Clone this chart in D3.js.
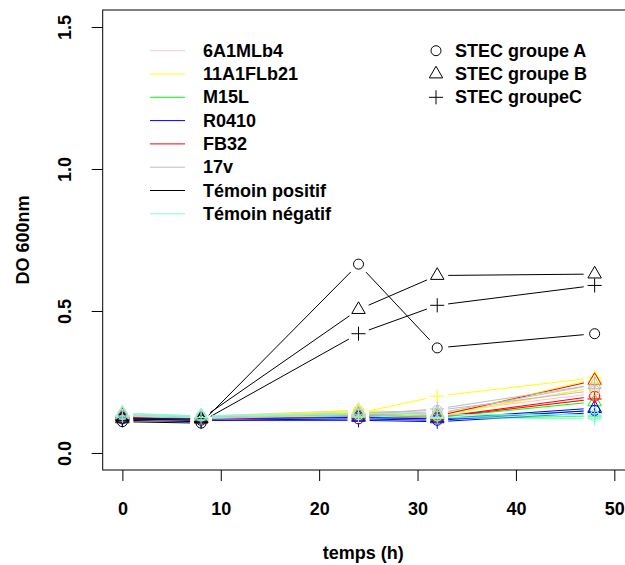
<!DOCTYPE html>
<html><head><meta charset="utf-8">
<script src="https://cdn.jsdelivr.net/npm/d3@7"></script>
<style>
html,body{margin:0;padding:0;background:#fff;}
svg{display:block;font-family:"Liberation Sans",Arial,Helvetica,sans-serif;font-weight:bold;}
</style></head>
<body>
<svg id="c" width="625" height="565"></svg>
<script>
// ---- data ----
const times = [0, 8, 24, 32, 48];
const strains = ["6A1MLb4", "11A1FLb21", "M15L", "R0410", "FB32", "17v", "Témoin positif", "Témoin négatif"];
const strainColors = ["#FFC0CB", "#FFFF00", "#00FF00", "#0000FF", "#FF0000", "#BEBEBE", "#000000", "#7FFFD4"];
const groups = ["STEC groupe A", "STEC groupe B", "STEC groupeC"];
const groupSymbols = ["circle", "triangle", "plus"];
// each strain: [groupe A, groupe B, groupe C] values at times
const v6A1MLb4 = [[0.135, 0.13, 0.145, 0.135, 0.23], [0.14, 0.13, 0.15, 0.14, 0.21], [0.13, 0.125, 0.14, 0.13, 0.19]];
const v11A1FLb21 = [[0.13, 0.125, 0.15, 0.13, 0.23], [0.125, 0.12, 0.145, 0.13, 0.26], [0.125, 0.12, 0.14, 0.20, 0.265]];
const vM15L = [[0.125, 0.12, 0.13, 0.12, 0.15], [0.13, 0.12, 0.13, 0.125, 0.18], [0.12, 0.12, 0.125, 0.12, 0.13]];
const vR0410 = [[0.12, 0.115, 0.12, 0.115, 0.15], [0.125, 0.12, 0.125, 0.12, 0.158], [0.12, 0.115, 0.115, 0.11, 0.142]];
const vFB32 = [[0.125, 0.12, 0.13, 0.125, 0.20], [0.13, 0.12, 0.135, 0.13, 0.255], [0.125, 0.12, 0.13, 0.125, 0.19]];
const v17v = [[0.13, 0.125, 0.14, 0.15, 0.22], [0.135, 0.125, 0.14, 0.14, 0.24], [0.13, 0.12, 0.135, 0.155, 0.24]];
const vTemoinPos = [[0.11, 0.105, 0.665, 0.37, 0.42], [0.12, 0.12, 0.505, 0.625, 0.63], [0.115, 0.11, 0.42, 0.52, 0.59]];
const vTemoinNeg = [[0.135, 0.13, 0.135, 0.13, 0.13], [0.14, 0.13, 0.14, 0.135, 0.135], [0.13, 0.125, 0.13, 0.125, 0.12]];
const strainValues = [v6A1MLb4, v11A1FLb21, vM15L, vR0410, vFB32, v17v, vTemoinPos, vTemoinNeg];
const xTicks = [0, 10, 20, 30, 40, 50];
const yTicks = [0.0, 0.5, 1.0, 1.5];
const yTickLabels = ["0.0", "0.5", "1.0", "1.5"];

// ---- layout ----
const svg = d3.select("#c");
const x = d3.scaleLinear().domain([-2, 52]).range([102.7, 634]);
const y = d3.scaleLinear().domain([-0.06, 1.56]).range([470, 10]);
const R = 5.0;       // symbol radius
const GAP = 11;      // type="b" gap
const FS = 18;

function symbolPath(kind) {
  if (kind === "circle") {
    return `M${-R},0a${R},${R} 0 1,0 ${2*R},0a${R},${R} 0 1,0 ${-2*R},0Z`;
  } else if (kind === "triangle") {
    const r = 1.5551 * R, xc = r * Math.sqrt(3) / 2, yc = r / 2;
    return `M0,${-r}L${xc},${yc}L${-xc},${yc}Z`;
  } else {
    const a = Math.SQRT2 * R;
    return `M${-a},0H${a}M0,${-a}V${a}`;
  }
}

// box
svg.append("rect")
  .attr("x", x(-2)).attr("y", y(1.56))
  .attr("width", x(52) - x(-2)).attr("height", y(-0.06) - y(1.56))
  .attr("fill", "none").attr("stroke", "#000").attr("stroke-width", 1);

// axes
const xAxis = svg.append("g").attr("transform", `translate(0,${y(-0.06)})`)
  .call(d3.axisBottom(x).tickValues(xTicks).tickSize(11).tickFormat(d3.format("d")));
xAxis.select(".domain").remove();
xAxis.selectAll(".tick line").attr("stroke", "#000");
xAxis.selectAll(".tick text").attr("y", 39).attr("dy", null)
  .attr("dominant-baseline", "central")
  .style("font-size", FS + "px").style("font-weight", "bold")
  .style("font-family", '"Liberation Sans",Arial,sans-serif').attr("fill", "#000");

const yAxis = svg.append("g").attr("transform", `translate(${x(-2)},0)`)
  .call(d3.axisLeft(y).tickValues(yTicks).tickSize(11).tickFormat((d, i) => yTickLabels[i]));
yAxis.select(".domain").remove();
yAxis.selectAll(".tick line").attr("stroke", "#000");
yAxis.selectAll(".tick text").attr("x", null).attr("y", null).attr("dy", null)
  .attr("transform", "translate(-38,0) rotate(-90)")
  .attr("text-anchor", "middle").attr("dominant-baseline", "central")
  .style("font-size", FS + "px").style("font-weight", "bold")
  .style("font-family", '"Liberation Sans",Arial,sans-serif').attr("fill", "#000");

// axis titles
svg.append("text").attr("x", (x(-2) + x(52)) / 2 - 5).attr("y", 553)
  .attr("text-anchor", "middle").attr("dominant-baseline", "central")
  .style("font-size", FS + "px").text("temps (h)");
svg.append("text").attr("transform", `translate(23,${(y(-0.06) + y(1.56)) / 2}) rotate(-90)`)
  .attr("text-anchor", "middle").attr("dominant-baseline", "central")
  .style("font-size", FS + "px").text("DO 600nm");

// series
const plot = svg.append("g");
strainValues.forEach((sv, si) => {
  const col = strainColors[si];
  sv.forEach((vals, gi) => {
    const pts = times.map((t, k) => [x(t), y(vals[k])]);
    const g = plot.append("g");
    for (let k = 0; k < pts.length - 1; k++) {
      const [x0, y0] = pts[k], [x1, y1] = pts[k + 1];
      const d = Math.hypot(x1 - x0, y1 - y0);
      if (d <= 2 * GAP) continue;
      const ux = (x1 - x0) / d, uy = (y1 - y0) / d;
      g.append("line")
        .attr("x1", x0 + ux * GAP).attr("y1", y0 + uy * GAP)
        .attr("x2", x1 - ux * GAP).attr("y2", y1 - uy * GAP)
        .attr("stroke", col).attr("stroke-width", 1);
    }
    g.selectAll("path.pt").data(pts).join("path").attr("class", "pt")
      .attr("transform", d => `translate(${d[0]},${d[1]})`)
      .attr("d", symbolPath(groupSymbols[gi]))
      .attr("fill", "none").attr("stroke", col).attr("stroke-width", 1);
  });
});

// legend left (strains)
const legL = svg.append("g");
strains.forEach((s, i) => {
  const yy = 50.7 + i * 23.3;
  legL.append("line").attr("x1", 150).attr("x2", 185).attr("y1", yy).attr("y2", yy)
    .attr("stroke", strainColors[i]).attr("stroke-width", 1);
  legL.append("text").attr("x", 203).attr("y", yy).attr("dominant-baseline", "central")
    .style("font-size", FS + "px").text(s);
});
// legend right (groups)
const legR = svg.append("g");
groups.forEach((s, i) => {
  const yy = 50.7 + i * 23.3;
  legR.append("path").attr("transform", `translate(436,${yy})`)
    .attr("d", symbolPath(groupSymbols[i])).attr("fill", "none").attr("stroke", "#000");
  legR.append("text").attr("x", 455).attr("y", yy).attr("dominant-baseline", "central")
    .style("font-size", FS + "px").text(s);
});
</script>
</body></html>
